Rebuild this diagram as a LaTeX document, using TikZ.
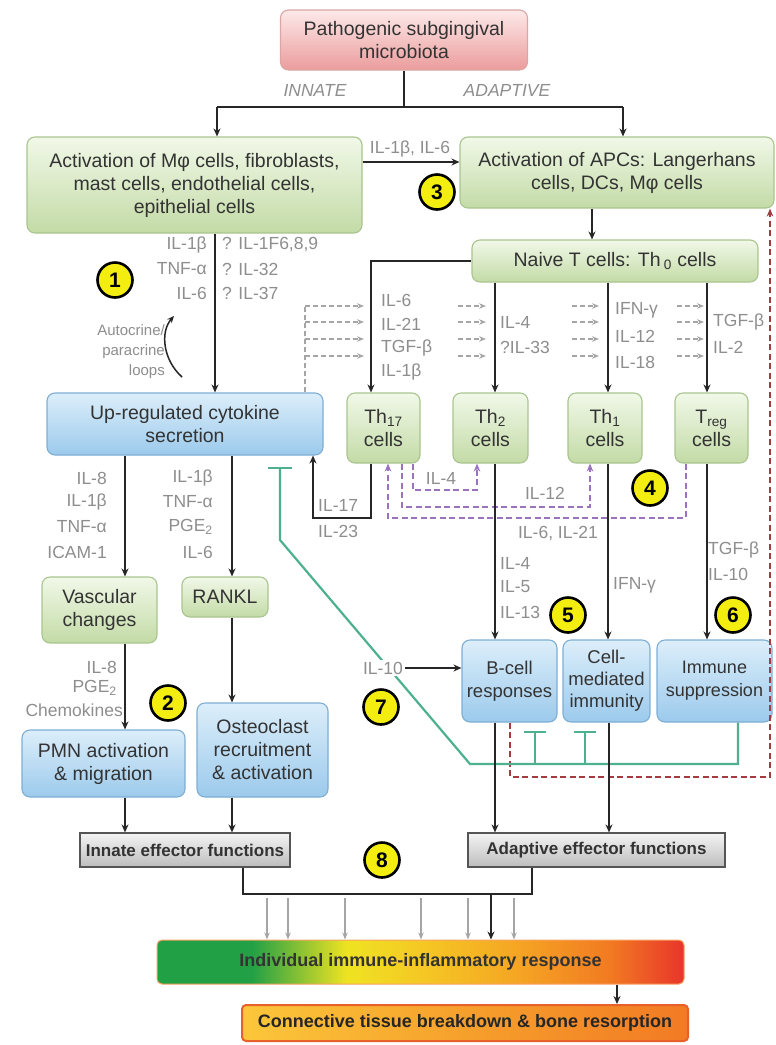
\documentclass[tikz,border=0pt]{standalone}
\usepackage{fontspec}
\setmainfont{Liberation Sans}
\usetikzlibrary{arrows.meta,calc}
\definecolor{grnT}{HTML}{F1F8E8}
\definecolor{grnD}{HTML}{C3DBA6}
\definecolor{grnB}{HTML}{A9C58F}
\definecolor{bluT}{HTML}{DCEEFA}
\definecolor{bluD}{HTML}{9CCAEC}
\definecolor{bluB}{HTML}{7EAED4}
\definecolor{pnkT}{HTML}{FDE9E9}
\definecolor{pnkD}{HTML}{EB9C9C}
\definecolor{pnkB}{HTML}{DDA6A6}
\definecolor{effT}{HTML}{F4F4F4}
\definecolor{effD}{HTML}{BDBDBD}
\definecolor{effB}{HTML}{555555}
\definecolor{lblc}{HTML}{8E8E8E}
\definecolor{gryA}{HTML}{A5A5A5}
\definecolor{txt}{HTML}{333333}
\definecolor{purp}{HTML}{9B72BE}
\definecolor{dred}{HTML}{A53A3F}
\definecolor{tgrn}{HTML}{4DB08E}
\definecolor{badgeY}{HTML}{F4EE10}
\definecolor{cG}{HTML}{22A046}
\definecolor{cY}{HTML}{EFE322}
\definecolor{cY2}{HTML}{F5C824}
\definecolor{cO}{HTML}{F5A623}
\definecolor{cO2}{HTML}{F27A22}
\definecolor{cR}{HTML}{E8352A}
\definecolor{kA}{HTML}{FBC73A}
\definecolor{kB}{HTML}{F6A02C}
\definecolor{kC}{HTML}{F27A24}
\definecolor{kBorder}{HTML}{E8602A}
\pgfdeclarehorizontalshading{immresp}{100bp}{color(0bp)=(cG); color(25bp)=(cG); color(34bp)=(cG); color(43bp)=(cY); color(50bp)=(cY2); color(59bp)=(cO); color(68bp)=(cO2); color(75bp)=(cR); color(100bp)=(cR)}
\pgfdeclarehorizontalshading{connsh}{100bp}{color(0bp)=(kA); color(25bp)=(kA); color(50bp)=(kB); color(75bp)=(kC); color(100bp)=(kC)}
\newcommand\bxf{\fontsize{19.5}{23}\selectfont}
\newcommand\lbf{\fontsize{17.5}{24}\selectfont}
\newcommand\eff{\fontsize{17}{20}\selectfont\bfseries}
\begin{document}
\begin{tikzpicture}[x=1pt,y=-1pt,
 box/.style={rounded corners=8pt, line width=1.1pt, align=center, font=\bxf, text=txt, inner sep=1pt},
 gbox/.style={box, draw=grnB, top color=grnT, bottom color=grnD},
 bbox/.style={box, draw=bluB, top color=bluT, bottom color=bluD},
 pbox/.style={box, draw=pnkB, top color=pnkT, bottom color=pnkD},
 ebox/.style={draw=effB, line width=1.2pt, top color=effT, bottom color=effD, font=\eff, text=txt, inner sep=1pt},
 ln/.style={line width=2pt, draw=black!85},
 arr/.style={ln, -{Stealth[length=8pt,width=7pt]}},
 garr/.style={line width=1.4pt, draw=gryA, -{Stealth[length=7pt,width=5.5pt]}},
 gdash/.style={line width=1.4pt, draw=gryA, dash pattern=on 5pt off 3pt},
 gdarr/.style={gdash, -{Stealth[length=7pt,width=5.5pt]}},
 pdash/.style={line width=1.7pt, draw=purp, dash pattern=on 6pt off 3.5pt, -{Stealth[length=8pt,width=6.5pt]}},
 rdash/.style={line width=1.7pt, draw=dred, dash pattern=on 6pt off 3.5pt, -{Stealth[length=8pt,width=6.5pt]}},
 tg/.style={line width=2.2pt, draw=tgrn},
 lbl/.style={font=\lbf, text=lblc, inner sep=0pt},
 lblE/.style={lbl, anchor=east},
 lblW/.style={lbl, anchor=west},
 badge/.style={circle, draw=black, line width=2.6pt, fill=badgeY, minimum size=35pt, inner sep=0pt, font=\fontsize{21}{21}\selectfont\bfseries},
]
\useasboundingbox[fill=white] (0,0) rectangle (776,1045);

% ---------- boxes ----------
\node[pbox, minimum width=247pt, minimum height=60pt] (top) at (404,40) {Pathogenic subgingival\\microbiota};
\node[gbox, minimum width=335pt, minimum height=96pt] (innate) at (194.5,185) {Activation of Mφ cells, fibroblasts,\\mast cells, endothelial cells,\\epithelial cells};
\node[gbox, minimum width=314pt, minimum height=71pt] (apc) at (617,172.5) {Activation of APCs: Langerhans\\cells, DCs, Mφ cells};
\node[gbox, minimum width=286pt, minimum height=42pt] (naive) at (615,261) {Naive T cells: Th\,\textsubscript{0} cells};
\node[gbox, minimum width=73pt, minimum height=70pt] (th17) at (383.5,428) {Th\textsubscript{17}\\cells};
\node[gbox, minimum width=75pt, minimum height=70pt] (th2) at (490.5,428) {Th\textsubscript{2}\\cells};
\node[gbox, minimum width=74pt, minimum height=70pt] (th1) at (605,428) {Th\textsubscript{1}\\cells};
\node[gbox, minimum width=73pt, minimum height=70pt] (treg) at (711.5,428) {T\textsubscript{reg}\\cells};
\node[bbox, minimum width=276pt, minimum height=62pt] (upreg) at (185,424) {Up-regulated cytokine\\secretion};
\node[gbox, minimum width=115pt, minimum height=66pt] (vasc) at (99.5,610) {Vascular\\changes};
\node[gbox, minimum width=86pt, minimum height=40pt] (rankl) at (225,597) {RANKL};
\node[bbox, minimum width=163pt, minimum height=67pt] (pmn) at (103.5,763.5) {PMN activation\\\& migration};
\node[bbox, minimum width=131pt, minimum height=94pt] (osteo) at (262.5,750) {Osteoclast\\recruitment\\\& activation};
\node[bbox, minimum width=95pt, minimum height=82pt, font=\fontsize{18.5}{23}\selectfont] (bcell) at (509.5,681) {B-cell\\responses};
\node[bbox, minimum width=87pt, minimum height=82pt, font=\fontsize{18.5}{22}\selectfont] (cmi) at (606.5,681) {Cell-\\mediated\\immunity};
\node[bbox, minimum width=115pt, minimum height=82pt, font=\fontsize{18}{23}\selectfont] (immsup) at (714.5,681) {Immune\\suppression};
\node[ebox, minimum width=210pt, minimum height=34pt] (innateeff) at (185,850) {Innate effector functions};
\node[ebox, minimum width=257pt, minimum height=34pt] (adapteff) at (596.5,850) {Adaptive effector functions};
\node[rounded corners=5pt, shading=immresp, draw=cO2!70, line width=1pt, minimum width=527pt, minimum height=44pt, font=\fontsize{18}{20}\selectfont\bfseries, text=black!80] (indiv) at (420.5,962) {Individual immune-inflammatory response};
\node[rounded corners=4pt, shading=connsh, draw=kBorder, line width=2pt, minimum width=446pt, minimum height=36pt, font=\fontsize{18}{20}\selectfont\bfseries, text=black!85] (conn) at (465,1023) {Connective tissue breakdown \& bone resorption};

% ---------- top split ----------
\coordinate (sp) at (404,107);
\coordinate (spL) at (217,107);
\coordinate (spR) at (623,107);
\draw[ln] (top.south) -- (sp);
\draw[ln] (spL) -- (spR);
\draw[arr] (spL) -- (innate.north -| spL);
\draw[arr] (spR) -- (apc.north -| spR);
\node[lbl, font=\lbf\itshape] (tinn) at (315,90) {INNATE};
\node[lbl, font=\lbf\itshape] (tada) at (507,90) {ADAPTIVE};

% ---------- innate -> apc ----------
\coordinate (y3) at (0,162);
\draw[arr] (innate.east |- y3) -- (apc.west |- y3);
\node[lbl] (l3) at (410,149) {IL-1β, IL-6};

% ---------- apc -> naive -> Th ----------
\coordinate (x592) at (592,0);
\draw[arr] (apc.south -| x592) -- (naive.north -| x592);
\coordinate (x371) at (371,0);
\coordinate (x495) at (495,0);
\coordinate (x608) at (608,0);
\coordinate (x707) at (707,0);
\draw[arr] (naive.west) -| (th17.north -| x371);
\draw[arr] (naive.south -| x495) -- (th2.north -| x495);
\draw[arr] (naive.south -| x608) -- (th1.north -| x608);
\draw[arr] (naive.south -| x707) -- (treg.north -| x707);

% Th labels
\node[lblW] (a1) at (381,300) {IL-6};
\node[lblW] (a2) at (381,324) {IL-21};
\node[lblW] (a3) at (381,348) {TGF-β};
\node[lblW] (a4) at (381,372) {IL-1β};
\node[lblW] (b1l) at (500,322) {IL-4};
\node[lblW] (b2l) at (500,347) {?IL-33};
\node[lblW] (c1l) at (615,310) {IFN-γ};
\node[lblW] (c2l) at (615,336) {IL-12};
\node[lblW] (c3l) at (615,362) {IL-18};
\node[lblW] (d1l) at (713,322) {TGF-β};
\node[lblW] (d2l) at (713,347) {IL-2};

% gray dashed arrows
\coordinate (gv) at (305,306);
\draw[gdash] (upreg.north -| gv) -- (gv);
\foreach \gy in {306,322,339,356}{
  \draw[gdarr] (305,\gy) -- (364,\gy);
  \draw[gdarr] (458,\gy) -- (486,\gy);
  \draw[gdarr] (572,\gy) -- (599,\gy);
  \draw[gdarr] (677,\gy) -- (704,\gy);
}

% ---------- innate -> upreg ----------
\coordinate (x215) at (215,0);
\draw[arr] (innate.south -| x215) -- (upreg.north -| x215);
\node[lblE] (i1) at (207,245) {IL-1β};
\node[lblE] (i2) at (207,269) {TNF-α};
\node[lblE] (i3) at (207,293) {IL-6};
\node[lblW] (i4) at (222,245) {? IL-1F6,8,9};
\node[lblW] (i5) at (222,269) {? IL-32};
\node[lblW] (i6) at (222,293) {? IL-37};
\node[lbl, font=\fontsize{15}{20}\selectfont, align=right, anchor=east] (auto) at (165,352) {Autocrine/\\paracrine\\loops};
\coordinate (ac1) at (182,377);
\coordinate (ac2) at (174,316);
\draw[line width=1.5pt, black!85, -{Stealth[length=7pt,width=6pt]}] (ac1) .. controls (163,360) and (160,332) .. (ac2);

% ---------- upreg -> vasc / rankl ----------
\coordinate (x125) at (125,0);
\coordinate (x232) at (232,0);
\draw[arr] (upreg.south -| x125) -- (vasc.north -| x125);
\draw[arr] (upreg.south -| x232) -- (rankl.north -| x232);
\node[lblE] (u1) at (107,478) {IL-8};
\node[lblE] (u2) at (107,502) {IL-1β};
\node[lblE] (u3) at (107,527) {TNF-α};
\node[lblE] (u4) at (107,552) {ICAM-1};
\node[lblE] (v1) at (213,478) {IL-1β};
\node[lblE] (v2) at (213,502) {TNF-α};
\node[lblE] (v3) at (213,527) {PGE\textsubscript{2}};
\node[lblE] (v4) at (213,552) {IL-6};

\draw[arr] (vasc.south -| x125) -- (pmn.north -| x125);
\draw[arr] (rankl.south -| x232) -- (osteo.north -| x232);
\node[lblE] (w1) at (117,667) {IL-8};
\node[lblE] (w2) at (117,688) {PGE\textsubscript{2}};
\node[lblE] (w3) at (123,710) {Chemokines};
\draw[arr] (pmn.south -| x125) -- (innateeff.north -| x125);
\draw[arr] (osteo.south -| x232) -- (innateeff.north -| x232);

% ---------- Th17 -> upreg loop ----------
\coordinate (c17) at (313,518);
\draw[arr] (th17.south -| x371) |- (c17) -- (upreg.south -| c17);
\node[lbl, anchor=west] (l17) at (318,505) {IL-17};
\node[lbl, anchor=west] (l23) at (318,531) {IL-23};

% ---------- purple loops ----------
\coordinate (p1) at (686,518); \coordinate (p1b) at (388,518);
\draw[pdash] (treg.south -| p1) -- (p1) -- (p1b) -- (th17.south -| p1b);
\coordinate (p2) at (402,507); \coordinate (p2b) at (590,507);
\draw[pdash] (th17.south -| p2) -- (p2) -- (p2b) -- (th1.south -| p2b);
\coordinate (p3) at (413,490); \coordinate (p3b) at (477,490);
\draw[pdash] (th17.south -| p3) -- (p3) -- (p3b) -- (th2.south -| p3b);
\node[lbl] (q1) at (441,478) {IL-4};
\node[lbl] (q2) at (545,493) {IL-12};
\node[lbl] (q3) at (558,534) {IL-6, IL-21};

% ---------- Th -> effector boxes ----------
\draw[arr] (th2.south -| x495) -- (bcell.north -| x495);
\draw[arr] (th1.south -| x608) -- (cmi.north -| x608);
\draw[arr] (treg.south -| x707) -- (immsup.north -| x707);
\node[lblW] (e1) at (500,563) {IL-4};
\node[lblW] (e2) at (500,587) {IL-5};
\node[lblW] (e3) at (500,612) {IL-13};
\node[lblW] (f1) at (613,585) {IFN-γ};
\node[lblW] (h1) at (708,550) {TGF-β};
\node[lblW] (h2) at (708,574) {IL-10};

% ---------- red dashed feedback ----------
\coordinate (r1) at (510,777); \coordinate (r2) at (770,777);
\draw[rdash] (bcell.south -| r1) -- (r1) -- (r2) -- (apc.south -| r2);

% ---------- green inhibition ----------
\coordinate (g1) at (738,764); \coordinate (g2) at (470,764);
\coordinate (g3) at (280,540); \coordinate (g4) at (280,468);
\draw[tg] (immsup.south -| g1) -- (g1) -- (g2) -- (g3) -- (g4);
\draw[tg] ($(g4)+(-12,0)$) -- ($(g4)+(12,0)$);
\coordinate (t1) at (535,732); \coordinate (t2) at (585,732);
\draw[tg] (t1 |- g1) -- (t1);
\draw[tg] ($(t1)+(-11,0)$) -- ($(t1)+(11,0)$);
\draw[tg] (t2 |- g1) -- (t2);
\draw[tg] ($(t2)+(-11,0)$) -- ($(t2)+(11,0)$);
\node[lbl, fill=white, inner sep=2pt] (il10) at (383,668) {IL-10};
\draw[arr] (il10.east) -- (bcell.west |- il10.east);

% ---------- adaptive lines ----------
\coordinate (x609) at (609,0);
\draw[arr] (bcell.south -| x495) -- (adapteff.north -| x495);
\draw[arr] (cmi.south -| x609) -- (adapteff.north -| x609);

% ---------- combine to individual ----------
\coordinate (cj) at (243,894); \coordinate (cj2) at (532,894);
\draw[ln] (innateeff.south -| cj) -- (cj) -- (cj2) -- (adapteff.south -| cj2);
\coordinate (cb) at (491,894);
\draw[arr] (cb) -- (indiv.north -| cb);
\foreach \gx in {267,288,345,421,468,514}{
  \coordinate (gg) at (\gx,898);
  \draw[garr] (gg) -- (indiv.north -| gg);
}
\coordinate (x617) at (617,0);
\draw[arr] (indiv.south -| x617) -- (conn.north -| x617);

% ---------- badges ----------
\node[badge] (n1) at (115,280) {1};
\node[badge] (n2) at (168,703) {2};
\node[badge] (n3) at (437,192) {3};
\node[badge] (n4) at (650,488) {4};
\node[badge] (n5) at (568,615) {5};
\node[badge] (n6) at (733,615) {6};
\node[badge] (n7) at (381,707) {7};
\node[badge] (n8) at (382,860) {8};
\end{tikzpicture}
\end{document}
